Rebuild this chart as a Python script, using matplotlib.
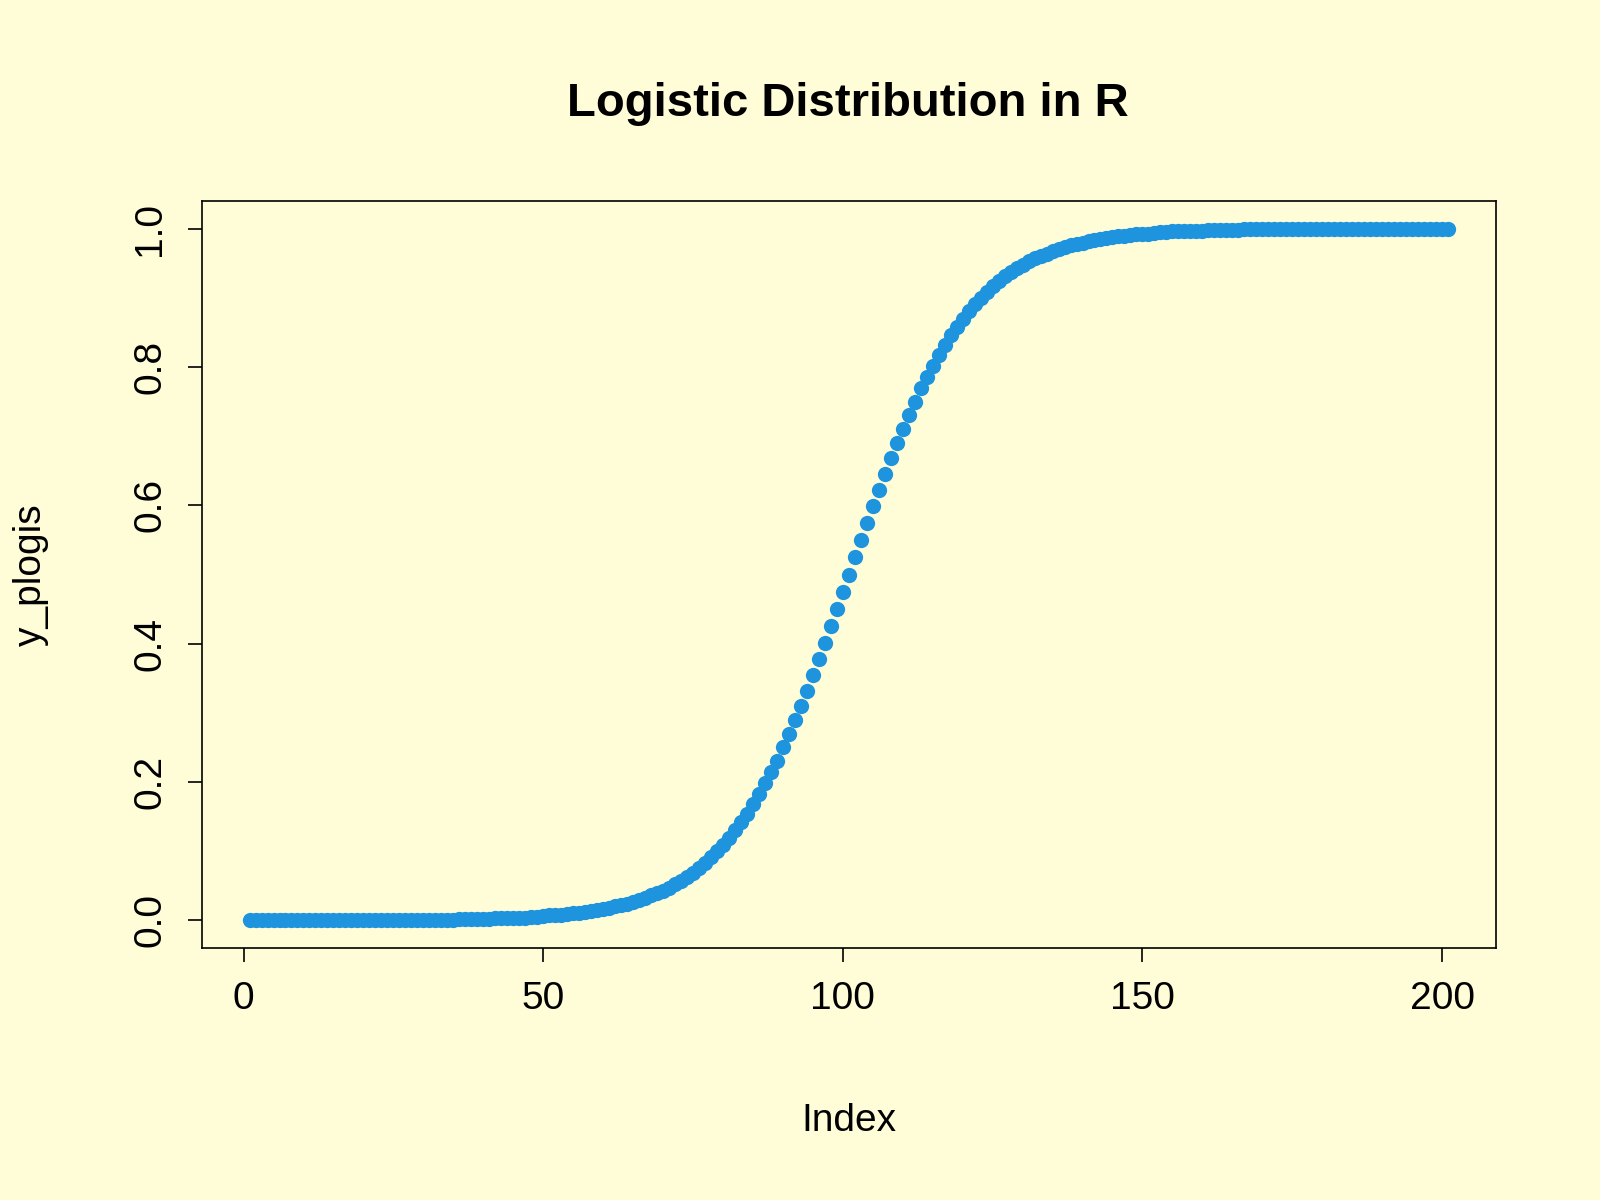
import matplotlib
matplotlib.use("Agg")
import matplotlib.pyplot as plt

plt.rcParams['font.family'] = ['Liberation Sans', 'DejaVu Sans']

index = list(range(1, 202))
y_plogis = (
    [0.000] * 24 + [0.001] * 11 + [0.002] * 6 +
    [0.003, 0.003, 0.003, 0.004, 0.004, 0.004, 0.005, 0.005, 0.006, 0.007,
     0.007, 0.008, 0.009, 0.010, 0.011, 0.012, 0.013, 0.015, 0.016, 0.018,
     0.020, 0.022, 0.024, 0.027, 0.029, 0.032, 0.036, 0.039, 0.043, 0.047,
     0.052, 0.057, 0.063, 0.069, 0.076, 0.083, 0.091, 0.100, 0.109, 0.119,
     0.130, 0.142, 0.154, 0.168, 0.182, 0.198, 0.214, 0.231, 0.250, 0.269,
     0.289, 0.310, 0.332, 0.354, 0.378, 0.401, 0.426, 0.450, 0.475, 0.500,
     0.525, 0.550, 0.574, 0.599, 0.622, 0.646, 0.668, 0.690, 0.711, 0.731,
     0.750, 0.769, 0.786, 0.802, 0.818, 0.832, 0.846, 0.858, 0.870, 0.881,
     0.891, 0.900, 0.909, 0.917, 0.924, 0.931, 0.937, 0.943, 0.948, 0.953,
     0.957, 0.961, 0.964, 0.968, 0.971, 0.973, 0.976, 0.978, 0.980, 0.982,
     0.984, 0.985, 0.987, 0.988, 0.989, 0.990, 0.991, 0.992, 0.993, 0.993,
     0.994, 0.995, 0.995, 0.996, 0.996, 0.996, 0.997, 0.997, 0.997] +
    [0.998] * 6 + [0.999] * 11 + [1.000] * 24
)
xticks = [0, 50, 100, 150, 200]
yticks = [0.0, 0.2, 0.4, 0.6, 0.8, 1.0]

bg = "#FFFDD8"
fig = plt.figure(figsize=(16, 12), dpi=100, facecolor=bg)
ax = fig.add_axes([0.126, 0.21, 0.809, 0.6225], facecolor=bg)
ax.plot(index, y_plogis, 'o', color="#1E94DE", markersize=11, markeredgewidth=0)
ax.set_xlim(-7, 209)
ax.set_ylim(-0.04, 1.04)
ax.set_xticks(xticks)
ax.set_xticklabels([str(t) for t in xticks])
ax.set_yticks(yticks)
ax.set_yticklabels([f"{t:.1f}" for t in yticks], rotation=90, va='center')
ax.tick_params(direction='out', length=10, width=1.2, labelsize=28, pad=14)
for s in ax.spines.values():
    s.set_linewidth(1.2)
ax.set_xlabel("Index", fontsize=28, labelpad=62)
ax.set_ylabel("y_plogis", fontsize=28, labelpad=60)
fig.text(0.53, 0.913, "Logistic Distribution in R", ha='center', va='center',
         fontsize=34, fontweight='bold')
fig.savefig("out.png", dpi=100, facecolor=bg)
